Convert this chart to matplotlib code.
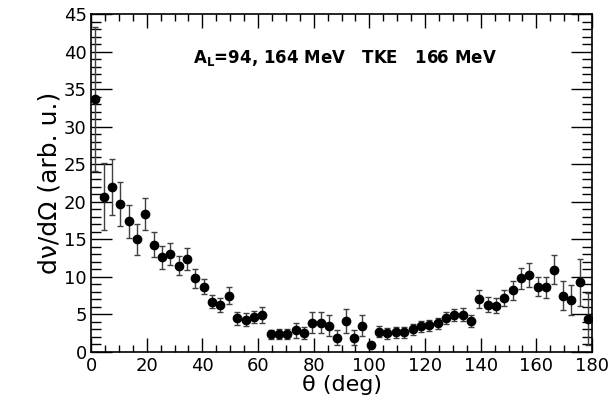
import matplotlib
matplotlib.use('Agg')
import matplotlib.pyplot as plt
from matplotlib.ticker import MultipleLocator
import numpy as np

plt.rcParams['font.family'] = ['DejaVu Sans']
plt.rcParams['mathtext.fontset'] = 'dejavusans'

# angular distribution, 3 deg bins
theta = np.arange(1.5, 180, 3.0)
yield_ = [33.7, 20.7, 22.0, 19.7, 17.4, 15.0, 18.4, 14.3, 12.6, 13.0,
          11.5, 12.4, 9.8, 8.7, 6.7, 6.2, 7.5, 4.45, 4.3, 4.7,
          4.95, 2.35, 2.35, 2.4, 2.85, 2.55, 3.9, 3.9, 3.5, 1.9,
          4.1, 1.9, 3.5, 0.9, 2.67, 2.45, 2.6, 2.6, 3.0, 3.4,
          3.55, 3.8, 4.5, 4.95, 4.95, 4.1, 7.07, 6.3, 6.15, 7.15,
          8.2, 9.8, 10.2, 8.7, 8.6, 10.95, 7.5, 6.95, 9.25, 4.35]
err = [9.6, 4.5, 3.7, 2.9, 2.2, 2.1, 2.1, 1.7, 1.5, 1.45,
       1.3, 1.45, 1.25, 1.05, 0.9, 0.95, 1.15, 0.9, 0.9, 0.8,
       1.05, 0.6, 0.65, 0.7, 0.95, 0.8, 1.35, 1.4, 1.4, 0.95,
       1.6, 0.95, 1.35, 0.2, 0.75, 0.75, 0.7, 0.7, 0.7, 0.75,
       0.75, 0.75, 0.75, 0.8, 0.85, 0.8, 1.2, 1.0, 1.0, 1.1,
       1.3, 1.4, 1.6, 1.25, 1.4, 1.9, 1.95, 2.0, 3.1, 3.5]

fig = plt.figure(figsize=(6.11, 4.11), dpi=100)
ax = fig.add_axes([0.149, 0.144, 0.82, 0.8215])

ax.errorbar(theta, yield_, yerr=err, fmt='o', color='black', ecolor='0.25',
            markersize=6, elinewidth=1.0, capsize=2, capthick=1.0)

ax.set_xlim(0, 180)
ax.set_ylim(0, 45)
ax.xaxis.set_major_locator(MultipleLocator(20))
ax.xaxis.set_minor_locator(MultipleLocator(5))
ax.yaxis.set_major_locator(MultipleLocator(5))
ax.yaxis.set_minor_locator(MultipleLocator(1))
ax.tick_params(which='both', direction='in', top=True, right=True,
               labelsize=13, width=1, color='black')
ax.tick_params(axis='x', which='major', length=10, pad=4)
ax.tick_params(axis='x', which='minor', length=5)
ax.tick_params(axis='y', which='major', length=15, pad=3)
ax.tick_params(axis='y', which='minor', length=7)
for s in ax.spines.values():
    s.set_linewidth(1.2)

# keep the two corner zeros apart
ax.get_yticklabels()[0].set_verticalalignment('bottom')

ax.set_xlabel(r'θ (deg)', fontsize=16, labelpad=0)
ax.set_ylabel(r'dν/dΩ (arb. u.)', fontsize=18, labelpad=2)

ax.text(0.203, 0.855, r'A$_\mathbf{L}$=94, 164 MeV   TKE   166 MeV',
        transform=ax.transAxes, fontsize=12, fontweight='bold')

fig.savefig('out.png', dpi=100)
